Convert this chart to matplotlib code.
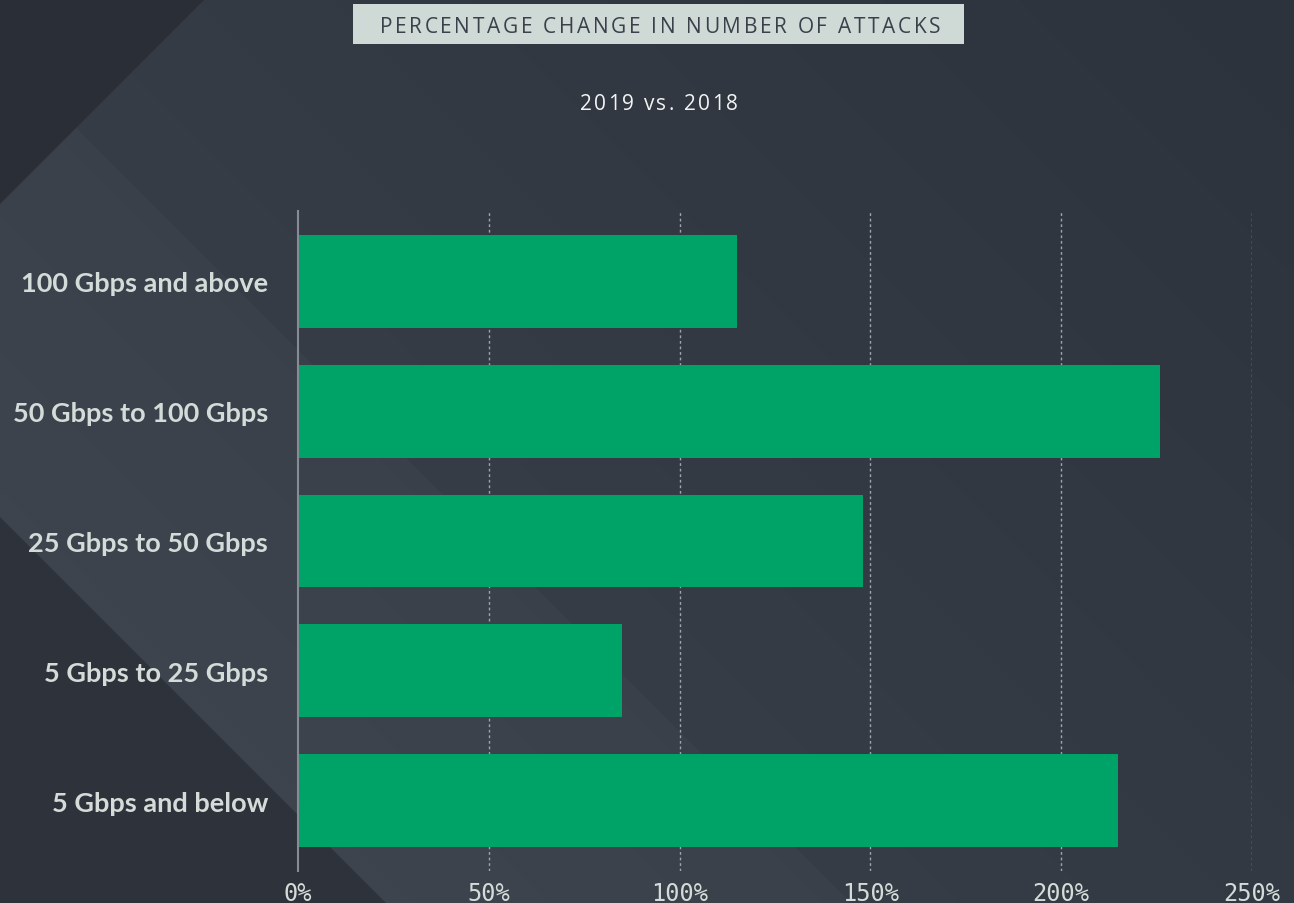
import numpy as np
import matplotlib.pyplot as plt
from matplotlib.patches import Polygon
from matplotlib import font_manager
from matplotlib.ft2font import FT2Font
from matplotlib.colors import to_rgb

# data
categories = ['100 Gbps and above', '50 Gbps to 100 Gbps', '25 Gbps to 50 Gbps',
              '5 Gbps to 25 Gbps', '5 Gbps and below']
values = [115, 226, 148, 85, 215]
xticks = [0, 50, 100, 150, 200, 250]
xtick_labels = ['0%', '50%', '100%', '150%', '200%', '250%']
title = 'PERCENTAGE CHANGE IN NUMBER OF ATTACKS'
subtitle = '2019 vs. 2018'

W, H = 1294, 904
DPI = 100
fig = plt.figure(figsize=(W / DPI, H / DPI), dpi=DPI)

# background: soft diagonal gradient + flat shapes, drawn in pixel coords
bg = fig.add_axes([0, 0, 1, 1], zorder=-5)
bg.set_axis_off()
yy, xx = np.mgrid[0:H:4, 0:W:4]
t = (xx + (H - yy)) / (W + H)
c0, c1 = np.array(to_rgb('#3d434d')), np.array(to_rgb('#2d333c'))
img = c0 + (c1 - c0) * t[..., None]
bg.imshow(img, extent=(0, W, H, 0), aspect='auto', interpolation='bilinear')
bg.set_xlim(0, W)
bg.set_ylim(H, 0)
bg.add_patch(Polygon([(0, 205), (76, 129), (851, 904), (386, 904), (0, 518)],
                     facecolor='white', alpha=0.025, edgecolor='none'))
bg.add_patch(Polygon([(0, 0), (205, 0), (0, 205)], facecolor='#2a2f37',
                     edgecolor='none'))
bg.add_patch(Polygon([(0, 518), (386, 904), (0, 904)], facecolor='#2e333b',
                     edgecolor='none'))

# title box
bg.add_patch(plt.Rectangle((353, 5), 611, 40, facecolor='#cfd9d6',
                           edgecolor='none'))


def tracked(s, cx, cy, width, size, color, family):
    # spread the letters of s evenly over `width` pixels, centred on cx
    path = font_manager.findfont(font_manager.FontProperties(family=family))
    ft = FT2Font(path)
    ft.set_size(size, DPI)
    adv = [ft.load_char(ord(ch)).linearHoriAdvance / 65536 for ch in s]
    gap = (width - sum(adv)) / (len(s) - 1)
    x = cx - width / 2
    for ch, a in zip(s, adv):
        if ch != ' ':
            bg.text(x, cy, ch, ha='left', va='baseline', fontsize=size,
                    color=color, family=family)
        x += a + gap


tracked(title, 660, 33, 561, 15, '#3a414b', 'Open Sans')
tracked(subtitle, 659, 110, 158, 15, '#f2f4f4', 'Open Sans')

ax = fig.add_axes([298 / W, 1 - 872 / H, (1252 - 298) / W, (872 - 212) / H])
ax.set_facecolor('none')
pos = list(range(len(categories)))
ax.barh(pos, values, height=0.715, color='#00a367', zorder=3)
ax.set_xlim(0, 250)
ax.set_ylim(4.54, -0.54)

ax.set_yticks(pos)
ax.set_yticklabels(categories, fontsize=19.5, fontweight='bold',
                   color='#d3dcd8', family='Lato')
ax.set_xticks(xticks)
ax.set_xticklabels(xtick_labels, fontsize=17, color='#d3dcd8',
                   family='DejaVu Sans Mono')
ax.tick_params(axis='y', length=0, pad=21.5)
ax.tick_params(axis='x', length=0, pad=7.5)

for s in ['top', 'right', 'bottom']:
    ax.spines[s].set_visible(False)
ax.spines['left'].set_color('#868c93')
ax.spines['left'].set_linewidth(1.5)
ax.spines['left'].set_zorder(4)

ax.grid(axis='x', color='#a0a5ab', linestyle=(0, (2, 2)), linewidth=1,
        zorder=1)
ax.xaxis.get_gridlines()[0].set_visible(False)

fig.savefig('out.png', dpi=DPI)
